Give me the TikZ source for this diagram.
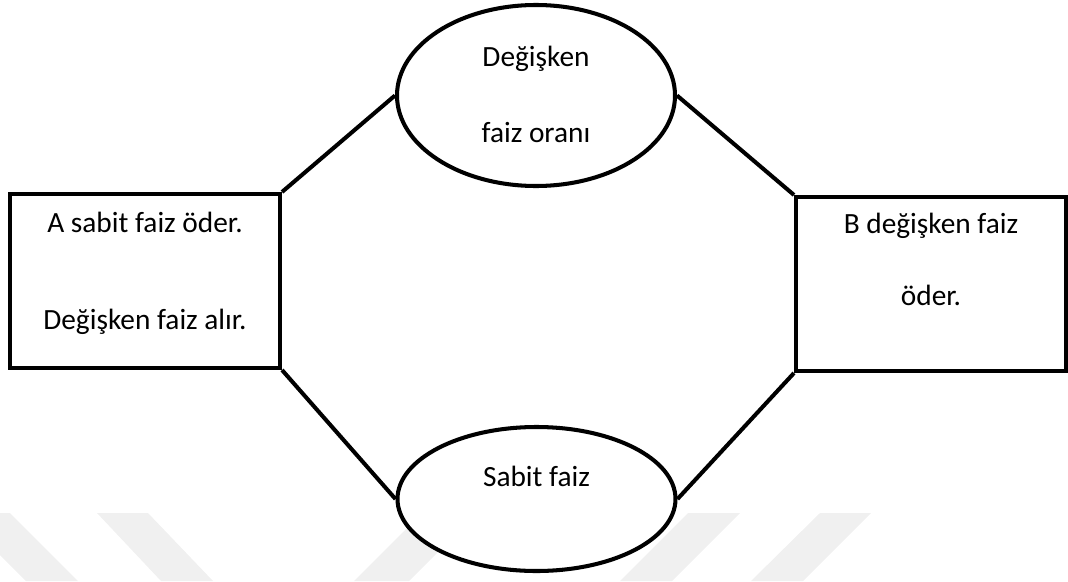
\documentclass[tikz,border=0pt]{standalone}
\usepackage{fontspec}
\setmainfont{Carlito}
\usetikzlibrary{shapes}

\begin{document}
\begin{tikzpicture}
\tikzstyle{oran}=[ellipse,draw,line width=2.3pt,fill=white,inner sep=0pt,
minimum width=5.56cm]
\tikzstyle{taraf}=[rectangle,draw,line width=2.3pt,fill=white,
minimum width=5.4cm,minimum height=3.48cm]
\tikzstyle{yazi}=[align=center,font=\fontsize{16.7}{20}\selectfont]
\tikzstyle{filigran}=[fill=black!6]

\useasboundingbox (0,0) rectangle (21.36,11.62);

% soluk arka plan
\fill[filigran] (-0.84,1.36) -- (0.20,1.36) -- (1.56,0) -- (0.52,0) -- cycle;
\fill[filigran] (1.94,1.36) -- (2.96,1.36) -- (4.26,0) -- (3.22,0) -- cycle;
\fill[filigran] (8.44,1.36) -- (9.54,1.36) -- (8.18,0) -- (7.08,0) -- cycle;
\fill[filigran] (13.76,1.36) -- (14.80,1.36) -- (13.44,0) -- (12.40,0) -- cycle;
\fill[filigran] (16.40,1.36) -- (17.42,1.36) -- (16.06,0) -- (15.02,0) -- cycle;

\node[oran,minimum height=3.62cm,
label={[yazi,yshift=0.02cm]center:Değişken\\[23pt]faiz oranı}] (degisken) at (10.72,9.71) {};
\node[oran,minimum height=2.88cm,
label={[yazi,yshift=0.45cm]center:Sabit faiz}] (sabit) at (10.73,1.64) {};
\node[taraf,
label={[yazi,yshift=0.15cm]center:A sabit faiz öder.\\[35pt]Değişken faiz alır.}] (A) at (2.90,6.00) {};
\node[taraf,
label={[yazi,yshift=0.50cm]center:B değişken faiz\\[21pt]öder.}] (B) at (18.62,5.94) {};

\tikzstyle{bag}=[line width=2.3pt]
\draw[bag] (A.north east) -- (degisken.west);
\draw[bag] (degisken.east) -- (B.north west);
\draw[bag] (A.south east) -- (sabit.west);
\draw[bag] (sabit.east) -- (B.south west);

\end{tikzpicture}
\end{document}
